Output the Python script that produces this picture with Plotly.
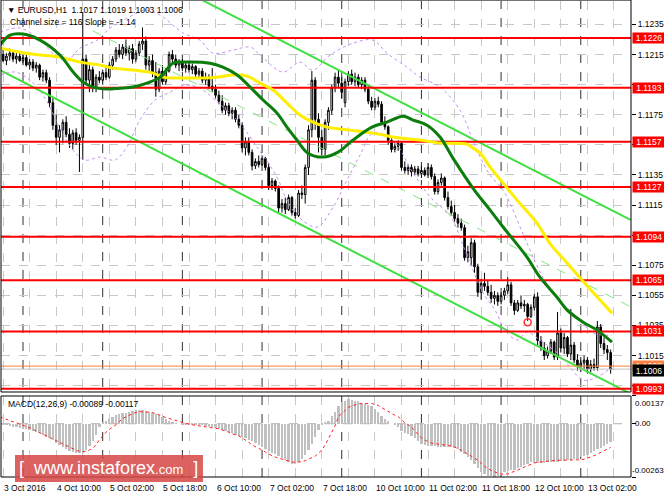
import plotly.graph_objects as go

# ---------------- DATA (prices in pips above 1.1000) ----------------
BASE = 1.1
PIP = 0.0001
bar_index = list(range(-7, 178))  # H1 bars, 0 = 4 Oct 00:00

opens_p = [212,215,211,214,216,212,214, 211,213,208,210,206,208,200,203,198,183, 168,160,165,170,162,156,163,158,160,212,
 198,205,193,200,198,203,200,208,212,218, 215,220,216,219,212,216,222,224,208,211, 203,192,204,197,204,215,212,208,210,206,
 208,205,207,202,204,198,200,194,192,188, 184,178,181,176,178,172,168,153,157,150, 141,144,142,146,140,128,131,126,113,116,
 112,120,110,108,123,122,140,165,198,172, 160,152,170,178,193,200,196,183,197,202, 197,200,195,198,192,184,180,184,182,170,
 167,158,152,154,156,140,138,140,137,139, 136,138,135,140,134,124,130,133,120,114, 110,106,103,100,80,80,90,74,57,63,
 61,57,53,55,51,55,58,62,50,45, 50,48,49,41,47,54,25,20,15,18, 24,14,30,20,27,16,22,12,8,10, 12,6,9,7,34,23,19,17]
highs_p = [218,219,216,219,218,216,217, 215,215,212,212,210,209,205,205,200,186, 175,168,172,174,166,165,166,162,243,215,
 208,207,202,204,205,206,210,214,220,222, 222,225,221,222,218,224,233,227,214,215, 210,206,208,206,217,218,215,212,212,210,
 210,209,208,206,206,203,202,206,195,191, 188,183,183,180,180,175,170,160,160,152, 146,148,148,147,143,133,132,128,119,120,
 122,121,113,125,128,142,168,204,200,176, 165,172,180,195,203,205,200,199,204,205, 203,202,200,200,194,187,186,187,184,174,
 168,160,156,158,157,144,142,142,141,141, 141,140,143,142,136,132,136,134,124,118, 115,109,106,102,88,93,92,76,66,70,
 65,62,58,57,57,60,67,64,52,52, 55,52,50,49,56,57,28,24,21,26, 25,44,33,30,28,46,24,16,14,15, 14,12,13,38,36,27,22,19]
lows_p = [208,210,208,211,210,209,210, 208,207,205,204,203,198,197,196,180,165, 155,150,156,160,153,152,155,137,145,195,
 190,190,190,196,195,198,199,205,210,213, 212,214,211,209,210,214,218,205,203,200, 187,190,195,195,203,210,206,204,204,203,
 203,202,200,199,196,195,192,190,186,182, 176,175,174,172,170,166,150,148,148,138, 139,140,141,138,125,125,124,110,110,109,
 111,108,106,107,119,116,135,160,165,150, 148,148,165,175,190,193,186,180,194,195, 194,193,192,190,182,178,178,180,168,165,
 155,150,150,151,138,136,135,134,135,134, 133,134,133,132,122,122,128,118,112,108, 104,100,98,78,77,75,70,54,52,58,
 55,50,49,48,49,52,56,48,42,44, 46,44,38,40,45,22,18,12,13,16, 12,12,17,16,14,12,10,5,4,6, 3,4,5,5,20,16,12,3]
closes_p = [215,211,214,216,212,214,211, 213,208,210,206,208,200,203,198,183,168, 160,165,170,162,156,163,158,160,212,198,
 205,193,200,198,203,200,208,212,218,215, 220,216,219,212,216,222,224,208,211,203, 192,204,197,204,215,212,208,210,206,208,
 205,207,202,204,198,200,194,192,188,184, 178,181,176,178,172,168,153,157,150,141, 144,142,146,140,128,131,126,113,116,112,
 120,110,108,123,122,140,165,198,172,160, 152,170,178,193,200,196,190,197,202,197, 200,195,198,192,184,180,184,182,170,167,
 158,152,154,156,140,138,140,137,139,136, 138,135,140,134,124,130,133,120,114,110, 106,103,100,80,84,90,74,57,63,61,
 57,53,55,51,55,58,62,50,45,50, 48,49,41,47,54,25,20,15,18,24, 14,30,20,27,16,22,12,8,10,12, 6,9,7,34,23,19,17,6]

# Moving averages (bar index, pips)
ma_green_idx = [-6.9,-3.9,0,5.1,11.1,15.1,18.1,21.1,25.3,29.2,33.1,37.3,41.3,45.2,48.2,56.3,60.2,64.5,68.4,72.3,76.5,79.5,82.5,85.8,90.4,94.9,99.4,105.1,109.6,114.5,117.5,121.7,125.6,129.5,135.5,140.7,144.6,151.8,155.7,160.8,163.9,168.7,172.9,177.4]
ma_green_p = [221.3,227.9,228.6,224.6,214.7,203.4,196.7,193.4,192.1,192.7,193.4,196.0,200.0,209.3,210.0,209.3,206.7,201.4,193.4,184.8,176.1,166.8,158.2,149.5,146.9,150.2,158.2,166.8,170.1,174.1,171.5,168.1,160.2,146.2,126.3,111.6,100.4,80.4,67.1,53.9,45.2,37.2,31.9,23.9]
ma_yellow_idx = [-6.9,-0.9,5.1,11.1,17.2,23.2,27.1,33.1,39.2,42.2,48.2,58.4,63.3,67.5,71.4,75.3,79.5,83.4,87.3,91.6,98.5,105.4,113.6,119.6,125.6,133.7,135.5,137.7,140.7,144.6,148.8,154.8,158.7,163.9,168.7,173.8,177.4]
ma_yellow_p = [219.3,216.6,214.7,213.3,210.0,208.0,206.0,204.7,202.7,200.0,199.4,200.0,201.4,200.7,196.0,191.4,182.8,174.8,170.1,166.8,164.8,162.8,159.5,158.2,156.2,155.5,152.9,149.5,140.2,129.6,118.3,103.0,89.6,76.4,64.4,51.9,43.2]

band_up_idx = [-6.9,-0.9,5.1,9.6,13.3,17.2,22.3,26.2,29.2,33.1,36.7,41.3,48.2,53.3,57.2,63.3,68.4,71.4,78.3,83.4,87.3,92.5,99.4,105.4,109.6,115.6,119.6,125.6,131.6,136.7,140.7,144.6,151.8,156.6,161.7,167.8,171.7,177.4]
band_up_p = [229.9,232.6,224.6,214.7,211.3,219.3,224.6,232.6,236.6,241.2,244.6,241.2,229.3,224.6,216.0,218.0,220.0,214.7,203.4,210.0,204.7,214.7,222.6,224.6,216.0,206.7,200.0,193.4,178.1,151.5,134.9,125.0,89.7,67.1,51.9,38.6,29.9,28.6]
band_dn_idx = [-6.9,-2.4,2.1,6.6,11.1,15.1,18.7,23.2,27.7,31.3,35.2,39.8,44.3,48.8,53.3,57.8,64.5,70.5,76.5,79.5,83.4,88.6,93.4,97.6,101.5,105.4,111.4,117.5,123.5,128.6,133.1,138.6,142.2,145.2,148.8,151.8,155.7,161.7,168.7,172.9,177.4]
band_dn_p = [201.4,203.4,198.0,186.1,166.1,151.5,144.9,146.9,144.9,153.5,171.5,184.8,190.1,194.7,192.7,184.8,171.5,153.5,133.6,118.3,106.3,100.4,113.6,131.6,148.2,162.8,158.2,136.2,118.3,108.3,85.1,56.5,45.2,31.9,25.3,30.6,25.3,15.3,-1.3,0.7,7.3]

# Regression channel (bar index, pips)
chan_lower_idx = [-7, 183]
chan_lower_p = [204.7, -10.4]
chan_upper_idx = [54, 183]
chan_upper_p = [251.2, 105.1]
chan_mid_idx = [21, 183]
chan_mid_p = [230.8, 47.4]

levels = [1.1226, 1.1193, 1.1157, 1.1127, 1.1094, 1.1065, 1.1031, 1.0993]
orange_level = 1.1008
bid_level = 1.1006
trade_marker_idx = [152]
trade_marker_price = [1.10372]

price_ticks = [1.0995, 1.1015, 1.1035, 1.1055, 1.1075, 1.1095, 1.1115, 1.1135, 1.1155, 1.1175, 1.1195, 1.1215, 1.1235]
# ticks whose labels sit fully under a level tag in the original
hidden_ticks = [1.0995, 1.1095, 1.1155, 1.1195]
xlabel_idx = [-6, 10, 26, 42, 58, 74, 90, 106, 122, 138, 154, 170]
xlabels = ["3 Oct 2016", "4 Oct 10:00", "5 Oct 02:00", "5 Oct 18:00", "6 Oct 10:00", "7 Oct 02:00",
           "7 Oct 18:00", "10 Oct 10:00", "11 Oct 02:00", "11 Oct 18:00", "12 Oct 10:00", "13 Oct 02:00"]
day_sep_idx = [0, 24, 48, 72, 96, 120, 144, 168]

# MACD (units of 1e-5)
macd_hist = [-2,-5,-8,-11,-14,-17,-20,
 -24,-28,-32,-36,-42,-48,-55,-64,-72,-82,
 -96,-106,-116,-126,-133,-138,-143,-145,-143,-130,
 -110,-85,-55,-15,5,15,25,35,45,50,
 52,54,58,62,66,70,68,64,60,55,
 48,42,35,25,15,8,3,0,-2,-4,
 -5,-5,-5,-6,-8,-10,-14,-18,-23,-28,
 -32,-37,-42,-48,-54,-60,-66,-72,-78,-86,
 -95,-105,-115,-125,-135,-142,-150,-160,-170,-180,
 -190,-198,-200,-190,-175,-155,-130,-100,-65,-30,
 -5,5,13,38,60,86,105,112,120,118,
 114,110,104,97,92,87,75,60,38,25,
 12,0,-8,-15,-36,-45,-52,-60,-72,-85,
 -100,-105,-108,-110,-112,-113,-113,-114,-113,-114,
 -120,-126,-138,-150,-165,-180,-200,-220,-236,-250,
 -256,-260,-262,-260,-255,-240,-235,-230,-226,-220,
 -213,-205,-198,-190,-192,-194,-196,-193,-190,-190,
 -190,-188,-186,-183,-181,-180,-176,-172,-166,-160,
 -152,-144,-136,-126,-118,-108,-98,-89]
macd_signal = [34,28,22,16,10,5,0,
 -5,-12,-20,-28,-36,-44,-52,-60,-68,-76,
 -86,-94,-102,-110,-118,-125,-131,-136,-138,-136,
 -130,-120,-105,-80,-60,-42,-28,-17,-5,10,
 25,35,43,50,56,60,60,58,57,55,
 50,44,38,30,25,20,15,10,6,2,
 -2,-5,-8,-10,-12,-14,-17,-20,-23,-25,
 -30,-35,-42,-50,-55,-60,-70,-80,-92,-105,
 -112,-120,-130,-140,-150,-158,-165,-170,-176,-182,
 -186,-189,-190,-190,-188,-182,-175,-170,-160,-145,
 -130,-105,-75,-45,-10,35,50,65,80,88,
 94,98,100,100,100,100,95,90,80,70,
 60,50,42,35,20,5,-5,-15,-35,-55,
 -70,-80,-88,-95,-98,-100,-103,-106,-108,-110,
 -115,-122,-130,-140,-150,-160,-170,-180,-195,-210,
 -222,-230,-238,-244,-248,-250,-248,-242,-236,-230,
 -222,-214,-206,-198,-194,-190,-188,-186,-184,-182,
 -181,-180,-180,-180,-180,-180,-180,-180,-178,-175,
 -170,-165,-158,-150,-142,-134,-125,-117]
macd_max, macd_min = 0.00137, -0.00263

# ---------------- FIGURE ----------------
def P(v):
    return [BASE + x * PIP for x in v]

FONT = "Liberation Sans, Arial, sans-serif"
X_RANGE = [-6.63, 183.13]
MAIN_DOM = [0.1786, 1.0]
MACD_DOM = [0.0, 0.1702]

fig = go.Figure()

fig.add_trace(go.Scatter(x=chan_lower_idx, y=P(chan_lower_p), mode="lines",
                         line=dict(color="#3fe03f", width=2), xaxis="x2", yaxis="y"))
fig.add_trace(go.Scatter(x=chan_upper_idx, y=P(chan_upper_p), mode="lines",
                         line=dict(color="#3fe03f", width=2), xaxis="x2", yaxis="y"))
fig.add_trace(go.Scatter(x=chan_mid_idx, y=P(chan_mid_p), mode="lines",
                         line=dict(color="#7fe87f", width=1, dash="dash"), xaxis="x2", yaxis="y"))
for bx, by in [(band_up_idx, band_up_p), (band_dn_idx, band_dn_p)]:
    fig.add_trace(go.Scatter(x=bx, y=P(by), mode="lines", line_shape="spline",
                             line=dict(color="#c890f0", width=1, dash="dot"), xaxis="x2", yaxis="y"))
for lv in levels:
    fig.add_trace(go.Scatter(x=X_RANGE, y=[lv, lv], mode="lines",
                             line=dict(color="#ff0000", width=2), xaxis="x2", yaxis="y"))
fig.add_trace(go.Scatter(x=X_RANGE, y=[orange_level] * 2, mode="lines",
                         line=dict(color="#ff8040", width=1), xaxis="x2", yaxis="y"))
fig.add_trace(go.Scatter(x=X_RANGE, y=[bid_level] * 2, mode="lines",
                         line=dict(color="#c0c0c0", width=1), xaxis="x2", yaxis="y"))
fig.add_trace(go.Scatter(x=ma_yellow_idx, y=P(ma_yellow_p), mode="lines", line_shape="spline",
                         line=dict(color="#ffee00", width=3), xaxis="x2", yaxis="y"))
fig.add_trace(go.Scatter(x=ma_green_idx, y=P(ma_green_p), mode="lines", line_shape="spline",
                         line=dict(color="#0b7d0b", width=3), xaxis="x2", yaxis="y"))
fig.add_trace(go.Candlestick(
    x=bar_index, open=P(opens_p), high=P(highs_p), low=P(lows_p), close=P(closes_p),
    increasing=dict(line=dict(color="#000000", width=1), fillcolor="#ffffff"),
    decreasing=dict(line=dict(color="#000000", width=1), fillcolor="#000000"),
    whiskerwidth=0, xaxis="x2", yaxis="y"))
fig.add_trace(go.Scatter(x=trade_marker_idx, y=trade_marker_price, mode="markers",
                         marker=dict(symbol="circle-open", size=7, color="#ff3030", line=dict(width=1.5)),
                         xaxis="x2", yaxis="y"))

fig.add_trace(go.Bar(x=bar_index, y=[v * 1e-5 for v in macd_hist], width=0.7,
                     marker=dict(color="#c0c0c0", line=dict(width=0)), xaxis="x", yaxis="y2"))
fig.add_trace(go.Scatter(x=bar_index, y=[v * 1e-5 for v in macd_signal], mode="lines",
                         line=dict(color="#ff2020", width=1, dash="dot"), xaxis="x", yaxis="y2"))

grid_vals = list(range(-6, 184, 8))

shapes = []
for d in day_sep_idx:
    shapes.append(dict(type="line", xref="x", yref="paper", x0=d, x1=d, y0=0, y1=1,
                       line=dict(color="#303030", width=1, dash="dash"), layer="below"))
shapes.append(dict(type="line", xref="paper", yref="y2", x0=0, x1=1, y0=0, y1=0,
                   line=dict(color="#b0b0b0", width=1, dash="dash"), layer="below"))
shapes.append(dict(type="rect", xref="paper", yref="paper", x0=0, x1=1, y0=MAIN_DOM[0], y1=1.002,
                   line=dict(color="#000000", width=1)))
shapes.append(dict(type="rect", xref="paper", yref="paper", x0=0, x1=1, y0=0, y1=MACD_DOM[1],
                   line=dict(color="#000000", width=1)))
shapes.append(dict(type="rect", xref="paper", yref="paper", x0=0.0222, x1=0.3206, y0=-0.0105, y1=0.0462,
                   fillcolor="rgba(214,70,70,0.85)", line=dict(width=0), layer="above"))

annotations = []
small = dict(family=FONT, size=8.5, color="#000000")
tiny = dict(family=FONT, size=8, color="#000000")
for xi, lab in zip(xlabel_idx, xlabels):
    annotations.append(dict(x=xi, xref="x", y=0, yref="paper", yanchor="top", xanchor="left",
                            yshift=-4, xshift=-1, text=lab, showarrow=False, font=small))
for lv in levels:
    annotations.append(dict(x=1, xref="paper", y=lv, yref="y", xanchor="left", yanchor="middle",
                            xshift=1, text=f"{lv:.4f}", showarrow=False, bgcolor="#ff0000",
                            font=dict(family=FONT, size=8.5, color="#ffffff"), width=32, height=10,
                            borderpad=0))
annotations.append(dict(x=1, xref="paper", y=orange_level, yref="y", xanchor="left", yanchor="middle",
                        xshift=1, text=f"{orange_level:.4f}", showarrow=False, bgcolor="#ff8040",
                        font=dict(family=FONT, size=8.5, color="#ffffff"), width=32, height=10, borderpad=0))
annotations.append(dict(x=1, xref="paper", y=bid_level, yref="y", xanchor="left", yanchor="middle",
                        xshift=1, yshift=-1, text=f"{bid_level:.4f}", showarrow=False, bgcolor="#000000",
                        font=dict(family=FONT, size=8.5, color="#ffffff"), width=32, height=11, borderpad=0))
annotations.append(dict(x=1, xref="paper", y=macd_max, yref="y2", xanchor="left", yanchor="top",
                        xshift=2, yshift=-1, text=f"{macd_max:.5f}", showarrow=False, font=tiny))
annotations.append(dict(x=1, xref="paper", y=0, yref="y2", xanchor="left", yanchor="middle",
                        xshift=2, text="0.00", showarrow=False, font=tiny))
annotations.append(dict(x=1, xref="paper", y=macd_min, yref="y2", xanchor="left", yanchor="bottom",
                        xshift=-1, text=f"{macd_min:.5f}", showarrow=False, font=tiny))
annotations.append(dict(x=0, xref="paper", y=1, yref="paper", xanchor="left", yanchor="top",
                        xshift=4, yshift=-2,
                        text=f"▼ EURUSD,H1  {BASE+opens_p[-1]*PIP:.4f} {BASE+highs_p[-1]*PIP:.4f} "
                             f"{BASE+lows_p[-1]*PIP:.4f} {BASE+closes_p[-1]*PIP:.4f}",
                        showarrow=False, font=small))
annotations.append(dict(x=0, xref="paper", y=1, yref="paper", xanchor="left", yanchor="top",
                        xshift=7, yshift=-14, text="Channel size = 116 Slope = -1.14",
                        showarrow=False, font=small))
annotations.append(dict(x=0, xref="paper", y=MACD_DOM[1], yref="paper", xanchor="left", yanchor="top",
                        xshift=5, yshift=-1,
                        text=f"MACD(12,26,9) {macd_hist[-1]*1e-5:.5f} {macd_signal[-1]*1e-5:.5f}",
                        showarrow=False, font=small))
annotations.append(dict(x=(0.0222 + 0.3206) / 2, xref="paper", y=0.018, yref="paper",
                        xanchor="center", yanchor="middle", showarrow=False,
                        text="[&nbsp;&nbsp;www.instaforex<span style='font-size:13px'>.com</span>&nbsp;&nbsp;]",
                        font=dict(family=FONT, size=18, color="#ffffff")))

tick_text = ["" if t in hidden_ticks else f"{t:.4f}" for t in price_ticks]

fig.update_layout(
    width=664, height=498,
    margin=dict(l=1, r=33, t=1, b=21),
    paper_bgcolor="#ffffff", plot_bgcolor="#ffffff",
    showlegend=False, bargap=0,
    xaxis=dict(domain=[0, 1], anchor="y2", range=X_RANGE, tickvals=grid_vals, showticklabels=False,
               showgrid=True, gridcolor="#c8c8c8", griddash="dash", gridwidth=1, zeroline=False,
               ticks="", rangeslider=dict(visible=False)),
    xaxis2=dict(domain=[0, 1], anchor="y", matches="x", range=X_RANGE, tickvals=grid_vals,
                showticklabels=False, showgrid=True, gridcolor="#c8c8c8", griddash="dash",
                zeroline=False, ticks="", rangeslider=dict(visible=False)),
    yaxis=dict(domain=MAIN_DOM, anchor="x2", side="right", range=[1.09908, 1.12506],
               tickvals=price_ticks, ticktext=tick_text,
               showgrid=True, gridcolor="#c8c8c8", griddash="dash", zeroline=False,
               ticks="outside", ticklen=4, tickcolor="#000000",
               tickfont=dict(family=FONT, size=8.5, color="#000000")),
    yaxis2=dict(domain=MACD_DOM, anchor="x", side="right", range=[macd_min, macd_max],
                showticklabels=False, showgrid=False, zeroline=False,
                tickvals=[macd_max, 0, macd_min], ticks="outside", ticklen=4, tickcolor="#000000"),
    shapes=shapes, annotations=annotations,
)

fig.write_html("out.html", config={"displayModeBar": False},
               post_script="document.body.style.margin='0';document.body.style.overflow='hidden';")
